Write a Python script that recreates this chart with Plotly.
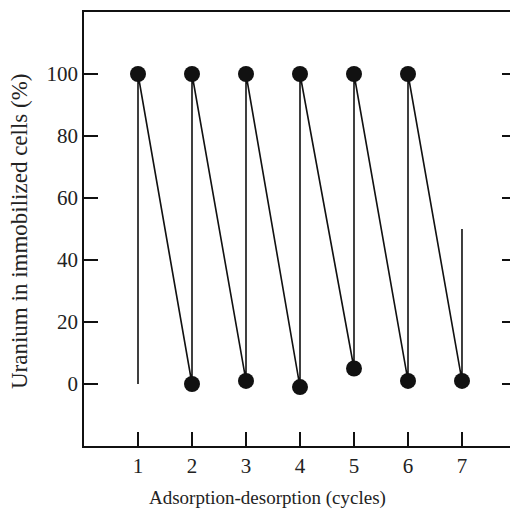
import plotly.graph_objects as go

# Data
cycles = [1, 2, 3, 4, 5, 6, 7]
adsorbed = [100, 100, 100, 100, 100, 100, None]      # after adsorption (%)
desorbed = [None, 0, 1, -1, 5, 1, 1]                 # after desorption (%)
start_value = 0
end_value = 50
y_tick_vals = [-20, 0, 20, 40, 60, 80, 100, 120]
y_tick_text = ["", "0", "20", "40", "60", "80", "100", ""]
x_tick_vals = [0, 1, 2, 3, 4, 5, 6, 7]
x_tick_text = ["", "1", "2", "3", "4", "5", "6", "7"]

# Build zigzag path: at each cycle go from desorbed level up to adsorbed level
line_x, line_y = [], []
for i, c in enumerate(cycles):
    low = desorbed[i] if desorbed[i] is not None else start_value
    high = adsorbed[i] if adsorbed[i] is not None else end_value
    line_x += [c, c]
    line_y += [low, high]

mk_x, mk_y = [], []
for i, c in enumerate(cycles):
    if desorbed[i] is not None:
        mk_x.append(c); mk_y.append(desorbed[i])
    if adsorbed[i] is not None:
        mk_x.append(c); mk_y.append(adsorbed[i])

fig = go.Figure()
fig.add_trace(go.Scatter(x=line_x, y=line_y, mode="lines",
                         line=dict(color="#111111", width=1.6),
                         showlegend=False, hoverinfo="skip"))
fig.add_trace(go.Scatter(x=mk_x, y=mk_y, mode="markers",
                         marker=dict(color="#111111", size=16),
                         showlegend=False))
# right-side mirror ticks (no line)
fig.add_trace(go.Scatter(x=[None], y=[None], yaxis="y2", showlegend=False))

font_family = "Liberation Serif, Times New Roman, serif"
fig.update_layout(
    width=510, height=510,
    margin=dict(l=84, r=0, t=12, b=64),
    paper_bgcolor="white", plot_bgcolor="white",
    font=dict(family=font_family, color="#222222", size=21),
    xaxis=dict(range=[0, 7.889], tickvals=x_tick_vals, ticktext=x_tick_text,
               ticks="inside", ticklen=14, tickwidth=1.5, tickcolor="#111111",
               showline=True, linecolor="#111111", linewidth=1.5, mirror=True,
               showgrid=False, zeroline=False, tickfont=dict(size=21)),
    yaxis=dict(range=[-20, 120], tickvals=y_tick_vals, ticktext=y_tick_text,
               ticks="inside", ticklen=14, tickwidth=1.5, tickcolor="#111111",
               showline=True, linecolor="#111111", linewidth=1.5,
               showgrid=False, zeroline=False, tickfont=dict(size=21)),
    yaxis2=dict(range=[-20, 120], tickvals=y_tick_vals, overlaying="y", side="right",
                ticks="inside", ticklen=8, tickwidth=1.5, tickcolor="#111111",
                showticklabels=False, showline=False, showgrid=False, zeroline=False),
    annotations=[
        dict(text="Adsorption-desorption (cycles)", xref="paper", yref="paper",
             x=(267 - 84) / 426, y=0, yshift=-52, showarrow=False,
             xanchor="center", yanchor="middle", font=dict(size=19)),
        dict(text="Uranium in immobilized cells (%)", xref="paper", yref="paper",
             x=0, xshift=-65, y=(446 - 231) / 434, showarrow=False, textangle=-90,
             xanchor="center", yanchor="middle", font=dict(size=23)),
    ],
)
fig.write_html("out.html", config={"displayModeBar": False},
               post_script=("document.body.style.margin='0';"
                            "document.body.style.overflow='hidden';"
                            "document.documentElement.style.overflow='hidden';"))
